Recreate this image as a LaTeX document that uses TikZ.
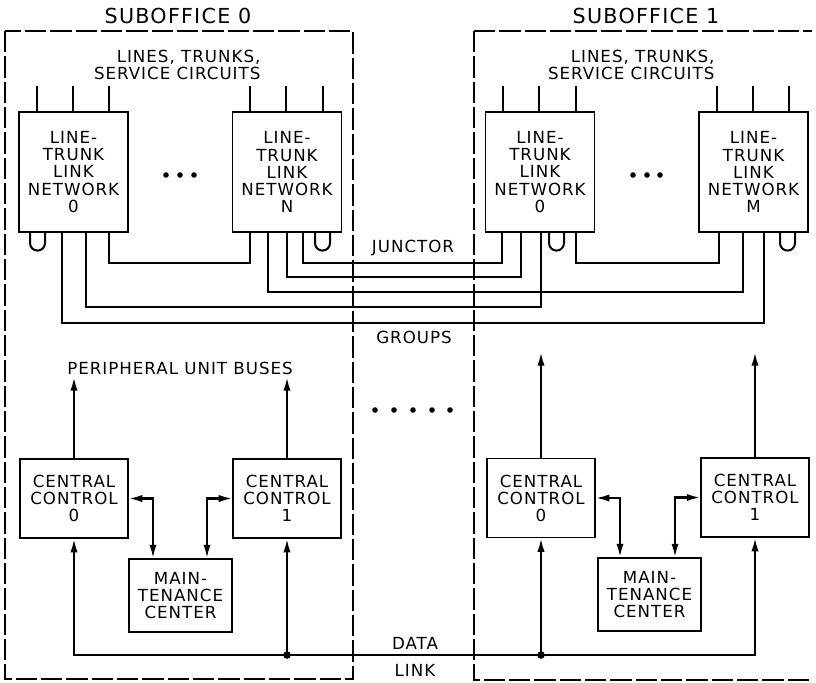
\documentclass[tikz,border=0pt]{standalone}
\usepackage{fontspec}
\newfontfamily\lettering[LetterSpace=6]{DejaVu Sans}
\usetikzlibrary{arrows.meta}

\begin{document}
\begin{tikzpicture}[
  x=0.75pt, y=-0.75pt,
  line join=miter,
  font=\lettering\fontsize{12.5}{12.8}\selectfont,
  blockbox/.style={draw, line width=0.9pt, align=center, inner sep=0pt},
  network/.style={blockbox, minimum width=81.75pt, minimum height=90pt},
  control/.style={blockbox, minimum width=81pt, minimum height=59.25pt},
  maint/.style={blockbox, minimum width=77.25pt, minimum height=54.75pt},
  wire/.style={line width=1.5pt},
  bus/.style={line width=1.6pt, -{Latex[length=3.6mm,width=1.9mm]}},
  duplex/.style={line width=1.6pt, {Latex[length=3.6mm,width=1.9mm]}-{Latex[length=3.6mm,width=1.9mm]}},
  office/.style={draw, line width=0.8pt, dash pattern=on 16pt off 3pt},
  officename/.style={font=\lettering\fontsize{15.5}{17}\selectfont},
  note/.style={align=center, inner sep=1pt}
]

\useasboundingbox (0,0) rectangle (816,682);

% Suboffice frames (the second one is open on the right).
\draw[office] (5,31) rectangle (353,679);
\draw[office] (474,31) -- (812,31);
\draw[office] (474,31) -- (474,680) -- (812,680);
\node[officename] (so0) at (178,16) {SUBOFFICE 0};
\node[officename] (so1) at (646,16) {SUBOFFICE 1};

% Line-trunk link networks.
\node[note, align=right, anchor=east] (lt0) at (262,65) {LINES, TRUNKS,\\SERVICE CIRCUITS};
\node[note, align=right, anchor=east] (lt1) at (716,65) {LINES, TRUNKS,\\SERVICE CIRCUITS};
\node[network] (ln0) at (73.5,172) {LINE-\\TRUNK\\LINK\\NETWORK\\0};
\node[network] (lnN) at (287,172) {LINE-\\TRUNK\\LINK\\NETWORK\\N};
\node[network] (rn0) at (540,172) {LINE-\\TRUNK\\LINK\\NETWORK\\0};
\node[network] (rnM) at (753.5,172) {LINE-\\TRUNK\\LINK\\NETWORK\\M};

\foreach \n in {ln0,lnN,rn0,rnM}{
  \foreach \s in {13.6,40.9,68.1}
    \draw[wire] ([xshift=\s pt]\n.north west) -- ++(0,-25);
}
\foreach \x in {166,180,194,633,647,660}
  \fill (\x,175) circle (2.8);

% Loop-arounds.
\foreach \n/\x in {ln0/30,lnN/315,rn0/549,rnM/780}
  \draw[wire] (\x,0 |- \n.south) -- ++(0,10.5) arc (180:0:7.5) -- ++(0,-10.5);

% Junctors and groups.
\foreach \a/\xa/\yy/\b/\xb in {ln0/62/323/rnM/764, ln0/86/307/rn0/541,
    ln0/109/263/lnN/250, lnN/268/292/rnM/743, lnN/287/277/rn0/521,
    lnN/303/263/rn0/502, rn0/576/263/rnM/719}
  \draw[wire] (\xa,0 |- \a.south) -- (\xa,\yy) -| (\xb,0 |- \b.south);
\node[note] (junctor) at (413,248) {JUNCTOR};
\node[note] (groups) at (414,337) {GROUPS};

\foreach \x in {375,394,413,432,450}
  \fill (\x,410) circle (2.8);

% Central controls.
\coordinate (busL) at (0,377);
\coordinate (busR) at (0,352);
\coordinate (dl) at (0,655);
\node[note] (pub) at (180,368) {PERIPHERAL UNIT BUSES};
\node[control] (cc0) at (74,498.5) {CENTRAL\\CONTROL\\0};
\node[control] (cc1) at (287,498.5) {CENTRAL\\CONTROL\\1};
\node[maint] (mc0) at (180.5,595.5) {MAIN-\\TENANCE\\CENTER};
\node[control] (rc0) at (541,498) {CENTRAL\\CONTROL\\0};
\node[control] (rc1) at (755,497.5) {CENTRAL\\CONTROL\\1};
\node[maint] (mc1) at (649.5,594.5) {MAIN-\\TENANCE\\CENTER};

\draw[bus] (cc0.north) -- (cc0.north |- busL);
\draw[bus] (cc1.north) -- (cc1.north |- busL);
\draw[bus] (rc0.north) -- (rc0.north |- busR);
\draw[bus] (rc1.north) -- (rc1.north |- busR);

\draw[duplex] (cc0.east) -| (153,0 |- mc0.north);
\draw[duplex] (cc1.west) -| (207,0 |- mc0.north);
\draw[duplex] (rc0.east) -| (620,0 |- mc1.north);
\draw[duplex] (rc1.west) -| (675,0 |- mc1.north);

% Data link.
\draw[duplex] (cc0.south) -- (cc0.south |- dl) -- (rc1.south |- dl) -- (rc1.south);
\draw[bus] (cc1.south |- dl) -- (cc1.south);
\draw[bus] (rc0.south |- dl) -- (rc0.south);
\fill (cc1.south |- dl) circle (3.8);
\fill (rc0.south |- dl) circle (3.8);
\node[note] (data) at (415,643) {DATA};
\node[note] (link) at (415,670) {LINK};

\end{tikzpicture}
\end{document}
